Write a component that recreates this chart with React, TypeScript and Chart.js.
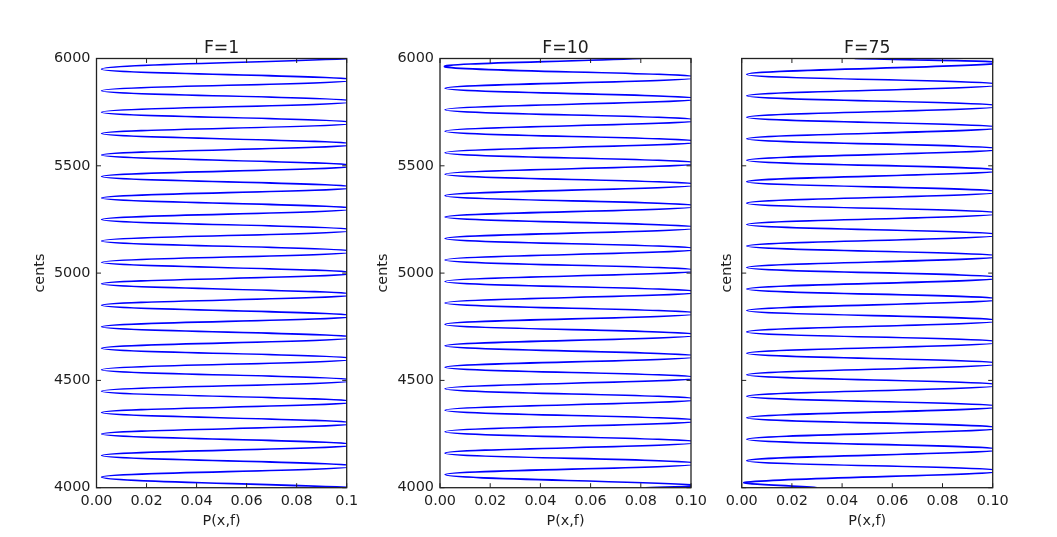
import React, { useEffect, useRef } from "react";
import { Chart, registerables } from "chart.js";

Chart.register(...registerables);

// ---------- data ----------
const panelTitles = ["F=1", "F=10", "F=75"];
const yTickValues = [4000, 4500, 5000, 5500, 6000];
const yTickLabels = ["4000", "4500", "5000", "5500", "6000"];
const xTickValues = [0, 0.02, 0.04, 0.06, 0.08, 0.1];
const xTickLabelsF1 = ["0.00", "0.02", "0.04", "0.06", "0.08", "0.1"];
const xTickLabelsOther = ["0.00", "0.02", "0.04", "0.06", "0.08", "0.10"];
const xAxisLabel = "P(x,f)";
const yAxisLabel = "cents";

// F=1: turning points (right peaks, just past the 0.1 edge / left troughs)
const centsF1 = [
  4000, 4050, 4100, 4150, 4200, 4250, 4300, 4350, 4400, 4450, 4500, 4550, 4600, 4650,
  4700, 4750, 4800, 4850, 4900, 4950, 5000, 5050, 5100, 5150, 5200, 5250, 5300, 5350,
  5400, 5450, 5500, 5550, 5600, 5650, 5700, 5750, 5800, 5850, 5900, 5950, 6000,
];
const probF1 = [
  0.103, 0.002, 0.103, 0.002, 0.103, 0.002, 0.103, 0.002, 0.103, 0.002, 0.103, 0.002, 0.103, 0.002,
  0.103, 0.002, 0.103, 0.002, 0.103, 0.002, 0.103, 0.002, 0.103, 0.002, 0.103, 0.002, 0.103, 0.002,
  0.103, 0.002, 0.103, 0.002, 0.103, 0.002, 0.103, 0.002, 0.103, 0.002, 0.103, 0.002, 0.103,
];

// F=10
const centsF10 = [
  4000, 4012, 4061, 4112, 4161, 4212, 4261, 4312, 4361, 4412, 4461, 4512, 4561, 4612,
  4661, 4712, 4761, 4812, 4861, 4912, 4961, 5012, 5061, 5112, 5161, 5212, 5261, 5312,
  5361, 5412, 5461, 5512, 5561, 5612, 5661, 5712, 5761, 5812, 5861, 5912, 5961, 6000,
];
const probF10 = [
  0.082, 0.103, 0.002, 0.103, 0.002, 0.103, 0.002, 0.103, 0.002, 0.103, 0.002, 0.103, 0.002, 0.103,
  0.002, 0.103, 0.002, 0.103, 0.002, 0.103, 0.002, 0.103, 0.002, 0.103, 0.002, 0.103, 0.002, 0.103,
  0.002, 0.103, 0.002, 0.103, 0.002, 0.103, 0.002, 0.103, 0.002, 0.103, 0.002, 0.103, 0.002, 0.08,
];

// F=75
const centsF75 = [
  4000, 4026, 4078, 4126, 4178, 4226, 4278, 4326, 4378, 4426, 4478, 4526, 4578, 4626,
  4678, 4726, 4778, 4826, 4878, 4926, 4978, 5026, 5078, 5126, 5178, 5226, 5278, 5326,
  5378, 5426, 5478, 5526, 5578, 5626, 5678, 5726, 5778, 5826, 5878, 5926, 5978, 6000,
];
const probF75 = [
  0.03, 0.002, 0.103, 0.002, 0.103, 0.002, 0.103, 0.002, 0.103, 0.002, 0.103, 0.002, 0.103, 0.002,
  0.103, 0.002, 0.103, 0.002, 0.103, 0.002, 0.103, 0.002, 0.103, 0.002, 0.103, 0.002, 0.103, 0.002,
  0.103, 0.002, 0.103, 0.002, 0.103, 0.002, 0.103, 0.002, 0.103, 0.002, 0.103, 0.002, 0.103, 0.045,
];

// ---------- layout / style ----------
const W = 1057;
const H = 537;
const FONT = "'DejaVu Sans', 'Liberation Sans', sans-serif";
const TEXT = "#1e1e1e";
const TICK_SIZE = 14.4;
const TITLE_SIZE = 17.28;
const AREA_TOP = 58.5;
const AREA_BOTTOM = 487.7;
const X_SCALE_H = 41.9;

const layouts = [
  { left: 96.5, right: 346.7, yWidth: 65.1, showYLabels: true, xLabels: xTickLabelsF1 },
  { left: 440, right: 691, yWidth: 65.1, showYLabels: true, xLabels: xTickLabelsOther },
  { left: 741.7, right: 992.7, yWidth: 23.3, showYLabels: false, xLabels: xTickLabelsOther },
];
const series = [
  { cents: centsF1, prob: probF1 },
  { cents: centsF10, prob: probF10 },
  { cents: centsF75, prob: probF75 },
];

const framePlugin = {
  id: "mplFrame",
  afterDatasetsDraw(chart: any) {
    const { ctx, chartArea: a, scales } = chart;
    const tl = 4.5;
    ctx.save();
    ctx.strokeStyle = "#222";
    ctx.lineWidth = 1;
    ctx.beginPath();
    for (const v of xTickValues) {
      const px = scales.x.getPixelForValue(v);
      ctx.moveTo(px, a.bottom);
      ctx.lineTo(px, a.bottom - tl);
      ctx.moveTo(px, a.top);
      ctx.lineTo(px, a.top + tl);
    }
    for (const v of yTickValues) {
      const py = scales.y.getPixelForValue(v);
      ctx.moveTo(a.left, py);
      ctx.lineTo(a.left + tl, py);
      ctx.moveTo(a.right, py);
      ctx.lineTo(a.right - tl, py);
    }
    ctx.stroke();
    ctx.lineWidth = 1.3;
    ctx.strokeRect(a.left, a.top, a.right - a.left, a.bottom - a.top);
    ctx.restore();
  },
};

function Panel({ idx }: { idx: number }) {
  const ref = useRef<HTMLCanvasElement>(null);
  useEffect(() => {
    const L = layouts[idx];
    const s = series[idx];
    const titleH = TITLE_SIZE * 1.2;
    const chart = new Chart(ref.current as HTMLCanvasElement, {
      type: "line",
      data: {
        datasets: [
          {
            data: s.cents.map((c, i) => ({ x: s.prob[i], y: c })),
            borderColor: "#0000ff",
            borderWidth: 1.6,
            pointRadius: 0,
            fill: false,
            tension: 0.42,
            capBezierPoints: false,
            indexAxis: "y",
            clip: 0,
          } as any,
        ],
      },
      options: {
        indexAxis: "y",
        responsive: false,
        animation: false,
        devicePixelRatio: 1,
        events: [],
        layout: {
          padding: {
            left: L.left - L.yWidth,
            right: W - L.right,
            top: AREA_TOP - titleH,
            bottom: H - AREA_BOTTOM - X_SCALE_H,
          },
        },
        plugins: {
          legend: { display: false },
          tooltip: { enabled: false },
          title: {
            display: true,
            text: panelTitles[idx],
            color: TEXT,
            fullSize: false,
            font: { family: FONT, size: TITLE_SIZE, weight: "normal" },
            padding: { top: 0, bottom: 0 },
          } as any,
        },
        scales: {
          x: {
            type: "linear",
            position: "bottom",
            min: 0,
            max: 0.1,
            grid: { display: false, drawTicks: false },
            border: { display: false },
            afterBuildTicks: (sc: any) => {
              sc.ticks = xTickValues.map((v) => ({ value: v }));
            },
            afterFit: (sc: any) => {
              sc.height = X_SCALE_H;
            },
            ticks: {
              autoSkip: false,
              maxRotation: 0,
              padding: 4.5,
              color: TEXT,
              font: { family: FONT, size: TICK_SIZE },
              callback: (_v: any, i: number) => L.xLabels[i],
            },
            title: {
              display: true,
              text: xAxisLabel,
              color: TEXT,
              padding: 0,
              font: { family: FONT, size: TICK_SIZE },
            },
          } as any,
          y: {
            type: "linear",
            position: "left",
            min: 4000,
            max: 6000,
            grid: { display: false, drawTicks: false },
            border: { display: false },
            afterBuildTicks: (sc: any) => {
              sc.ticks = yTickValues.map((v) => ({ value: v }));
            },
            afterFit: (sc: any) => {
              sc.width = L.yWidth;
            },
            ticks: {
              display: L.showYLabels,
              autoSkip: false,
              padding: 6,
              color: TEXT,
              font: { family: FONT, size: TICK_SIZE },
              callback: (_v: any, i: number) => yTickLabels[i],
            },
            title: {
              display: true,
              text: yAxisLabel,
              color: TEXT,
              padding: 0,
              font: { family: FONT, size: TICK_SIZE },
            },
          } as any,
        },
      },
      plugins: [framePlugin],
    });
    return () => chart.destroy();
  }, [idx]);
  return (
    <canvas
      ref={ref}
      width={W}
      height={H}
      style={{ position: "absolute", left: 0, top: 0, width: W, height: H }}
    />
  );
}

export default function App() {
  return (
    <div
      style={{
        position: "fixed",
        left: 0,
        top: 0,
        width: W,
        height: H,
        background: "#ffffff",
        overflow: "hidden",
      }}
    >
      <Panel idx={0} />
      <Panel idx={1} />
      <Panel idx={2} />
    </div>
  );
}
